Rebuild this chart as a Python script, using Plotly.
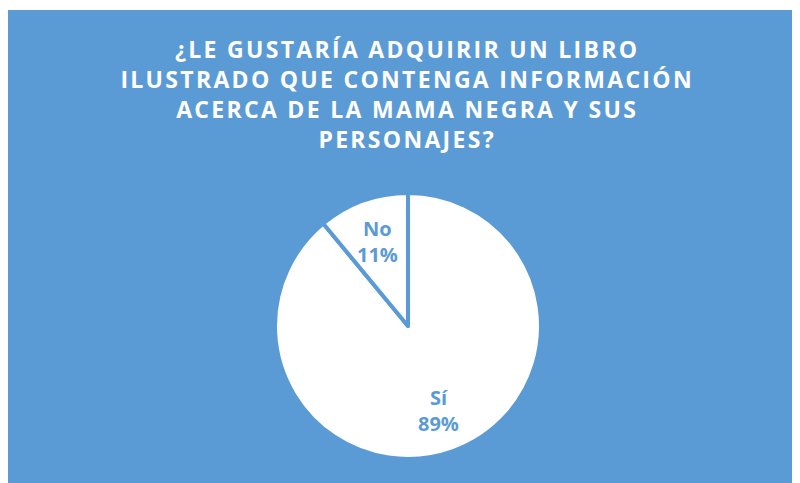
import math
import plotly.graph_objects as go

labels = ["Sí", "No"]
values = [89, 11]
title_lines = [
    "¿LE GUSTARÍA ADQUIRIR UN LIBRO",
    "ILUSTRADO QUE CONTENGA INFORMACIÓN",
    "ACERCA DE LA MAMA NEGRA Y SUS",
    "PERSONAJES?",
]

BLUE = "#5B9BD5"
W, H = 792, 483
HAIR = "\u200a"

# pie geometry (pixels within figure)
CX, CY, R = 400, 318, 130
DOM_R = R + 3


def spaced(s):
    return HAIR.join(list(s))


fig = go.Figure(
    go.Pie(
        labels=labels,
        values=values,
        sort=False,
        direction="clockwise",
        rotation=0,
        marker=dict(colors=["white", "white"], line=dict(color=BLUE, width=4)),
        textinfo="none",
        hoverinfo="label+percent",
        showlegend=False,
        domain=dict(
            x=[(CX - DOM_R) / W, (CX + DOM_R) / W],
            y=[1 - (CY + DOM_R) / H, 1 - (CY - DOM_R) / H],
        ),
    )
)

# slice labels placed at the mid-angle of each slice
total = sum(values)
start = 0.0
annotations = []
for lab, val in zip(labels, values):
    frac = val / total
    mid = (start + frac / 2) * 2 * math.pi  # clockwise from 12 o'clock
    start += frac
    r = 0.69 * R
    px = CX + r * math.sin(mid)
    py = CY - r * math.cos(mid)
    annotations.append(
        dict(
            text=f"{lab}<br>{round(frac * 100)}%",
            x=px / W,
            y=1 - py / H,
            xref="paper",
            yref="paper",
            xanchor="center",
            yanchor="middle",
            showarrow=False,
            font=dict(family="Open Sans", size=20, color=BLUE, weight="bold"),
        )
    )

fig.update_layout(
    width=W,
    height=H,
    margin=dict(l=0, r=0, t=0, b=0),
    paper_bgcolor=BLUE,
    plot_bgcolor=BLUE,
    title=dict(
        text="<br>".join(spaced(t) for t in title_lines),
        x=398 / W,
        xanchor="center",
        y=1 - 50 / H,
        yanchor="top",
        yref="container",
        font=dict(family="Open Sans", size=23, color="white", weight="bold"),
    ),
    annotations=annotations,
    shapes=[
        dict(
            type="rect",
            xref="paper",
            yref="paper",
            x0=0,
            x1=1,
            y0=1 - 2 / H,
            y1=1,
            fillcolor="white",
            line=dict(width=0),
            layer="below",
        )
    ],
)

fig.write_html("out.html")
